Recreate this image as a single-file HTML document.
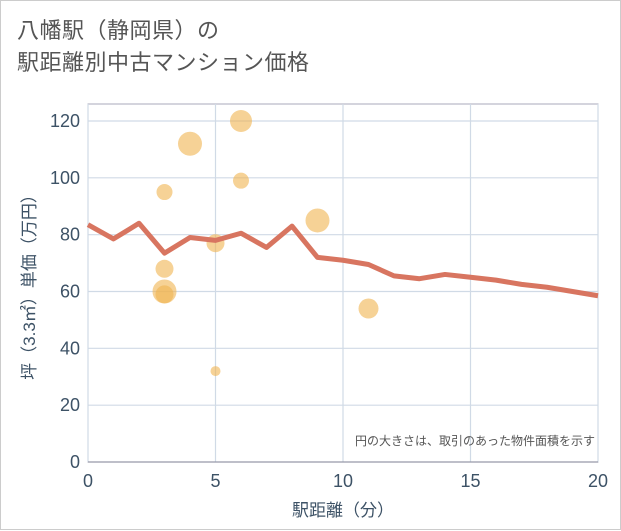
<!DOCTYPE html>
<html><head><meta charset="utf-8"><style>
body{margin:0;background:#fff;}
#wrap{position:relative;width:619px;height:528px;border:1px solid #ccc;background:#fff;font-family:"Liberation Sans","Noto Sans CJK JP",sans-serif;}
#title{position:absolute;left:16px;top:14px;font-size:22px;line-height:32px;color:#555;letter-spacing:0.5px;}
svg{position:absolute;left:0;top:0;}
</style></head><body>
<div id="wrap">
<div id="title">八幡駅（静岡県）の<br>駅距離別中古マンション価格</div>
<svg id="chart" width="621" height="530"></svg>
</div>
<script>
const lineX=[0,1,2,3,4,5,6,7,8,9,10,11,12,13,14,15,16,17,18,19,20];
const lineY=[83.5,78.5,84,73.5,79,78,80.5,75.5,83,72,71,69.5,65.5,64.5,66,65,64,62.5,61.5,60,58.5];
const bubX=[3,4,6,6,9,5,3,3,3,11,5];
const bubY=[95,112,120,99,85,77,68,60,59,54,32];
const bubR=[8,12,11,8,12,9,9,12,9,10,5];
const xTicks=[0,5,10,15,20];
const yTicks=[0,20,40,60,80,100,120];
const NS="http://www.w3.org/2000/svg";
const svg=document.getElementById('chart');
const L=87,R=597,T=103,B=461;
const sx=v=>L+(v/20)*(R-L);
const sy=v=>B-(v/120)*(B-120);
function mk(t,a){const e=document.createElementNS(NS,t);for(const k in a)e.setAttribute(k,a[k]);svg.appendChild(e);return e;}
let bg=mk('rect',{x:L,y:T,width:R-L,height:B-T,fill:'#fff',stroke:'#aab'});


yTicks.forEach(v=>{
 let g=mk('line',{x1:L,x2:R,y1:sy(v),y2:sy(v),stroke:'#d0dae6','stroke-width':1.2});
 
 
 let t=mk('text',{x:L-8,y:sy(v)+6,'text-anchor':'end','font-size':18,fill:'#3d5266'});
 t.textContent=v;
 
 
});
xTicks.forEach(v=>{
 let g=mk('line',{x1:sx(v),x2:sx(v),y1:T,y2:B,stroke:'#d0dae6','stroke-width':1.2});
 
 
 let t=mk('text',{x:sx(v),y:B+25,'text-anchor':'middle','font-size':18,fill:'#3d5266'});
 t.textContent=v;
 
 
});
let ax=mk('line',{x1:L,x2:R,y1:B,y2:B,stroke:'#889'});


bubX.forEach((x,i)=>{
 let c=mk('circle',{cx:sx(x),cy:sy(bubY[i]),r:bubR[i],fill:'rgba(240,180,80,0.6)'});
 
 
});
let p=mk('polyline',{points:lineX.map((x,i)=>sx(x)+','+sy(lineY[i])).join(' '),fill:'none',stroke:'#d87560','stroke-width':5,'stroke-linejoin':'round'});


let n=mk('text',{x:R-3,y:B-17,'text-anchor':'end','font-size':12,fill:'#555'});
n.textContent='円の大きさは、取引のあった物件面積を示す';


let xt=mk('text',{x:(L+R)/2,y:515,'text-anchor':'middle','font-size':17,fill:'#3d5266'});
xt.textContent='駅距離（分）';


let yt=mk('text',{x:0,y:0,'text-anchor':'middle','font-size':17,fill:'#3d5266',transform:'translate(34,'+((T+B)/2)+') rotate(-90)'});
yt.textContent='坪（3.3㎡）単価（万円）';


</script>
</body></html>
